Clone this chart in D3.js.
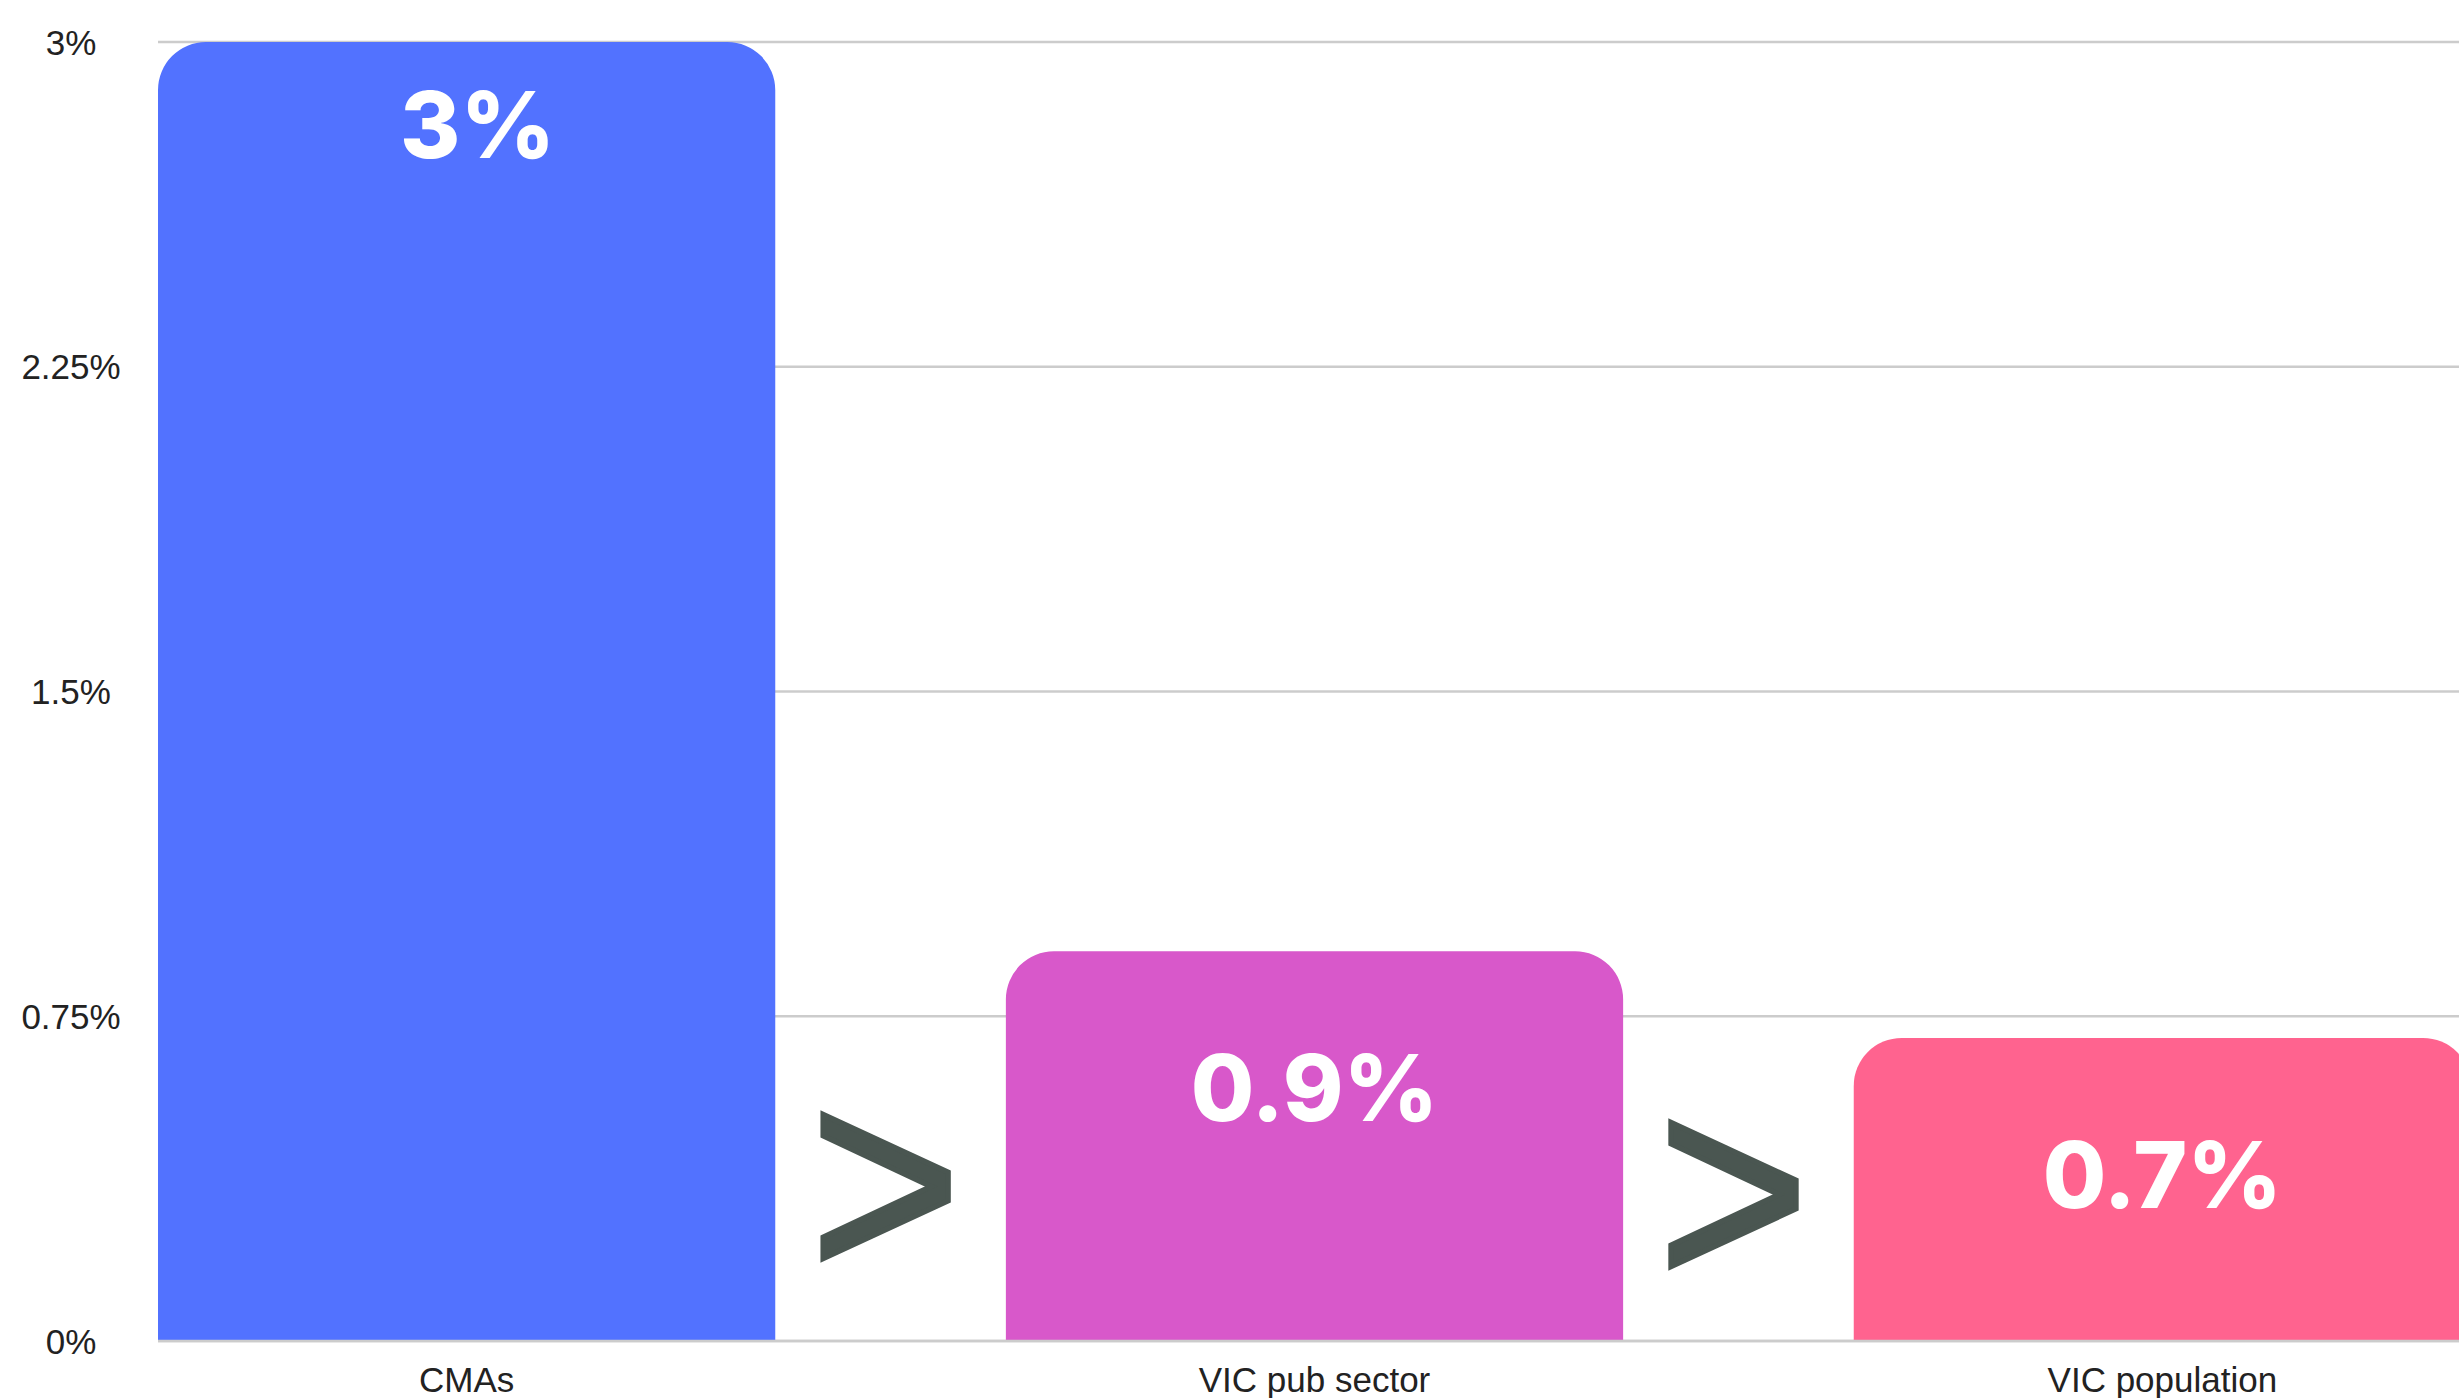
<!DOCTYPE html>
<html lang="en">
  <head>
    <meta charset="UTF-8" />
    <title>CMAs vs VIC</title>
    <style>
      body {
        margin: 0;
        background: #fff;
      }

      .grid line {
        stroke: #cccccc;
        stroke-width: 2.5px;
      }

      .axis-label {
        font-family: "Liberation Sans", Arial, sans-serif;
        font-size: 35px;
        fill: #222;
      }

      .value-label {
        font-family: Inter, sans-serif;
        font-weight: 800;
        font-size: 92px;
        fill: #fff;
      }

      .compare {
        font-family: "Liberation Sans", Arial, sans-serif;
        font-size: 258px;
        fill: #4a5651;
        stroke: #4a5651;
        stroke-width: 5px;
      }
    </style>
  </head>

  <body>
    <script src="https://cdn.jsdelivr.net/npm/d3@7"></script>
    <script>

      // Data...
      var categories = ["CMAs", "VIC pub sector", "VIC population"];
      var values = [3, 0.9, 0.7];
      var valueLabels = ["3%", "0.9%", "0.7%"];
      var barColors = ["#5272ff", "#d858ca", "#ff638f"];
      var yTicks = [0, 0.75, 1.5, 2.25, 3];
      var yTickLabels = ["0%", "0.75%", "1.5%", "2.25%", "3%"];

      var data = categories.map(function(c, i) {
        return { cat: c, value: values[i], label: valueLabels[i], color: barColors[i] };
      });

      // SVG...
      var w = 2459,
          h = 1398;

      var margin = { top: 42, right: -12, bottom: 57, left: 158 };

      var svg = d3.select("body").append("svg")
        .attr("width", w)
        .attr("height", h);

      // Scales...
      var xScale = d3.scaleBand()
        .domain(categories)
        .range([margin.left, w - margin.right])
        .paddingInner(0.272)
        .paddingOuter(0);

      var yScale = d3.scaleLinear()
        .domain([0, 3])
        .range([h - margin.bottom, margin.top]);

      // Gridlines
      svg.append("g")
        .attr("class", "grid")
        .selectAll("line")
        .data(yTicks)
        .enter()
        .append("line")
        .attr("x1", margin.left)
        .attr("x2", w)
        .attr("y1", function(d) { return yScale(d); })
        .attr("y2", function(d) { return yScale(d); });

      // Y labels
      svg.append("g")
        .selectAll("text")
        .data(yTicks)
        .enter()
        .append("text")
        .attr("class", "axis-label")
        .attr("x", 71)
        .attr("y", function(d) { return yScale(d); })
        .attr("text-anchor", "middle")
        .attr("dominant-baseline", "central")
        .text(function(d, i) { return yTickLabels[i]; });

      // Bars with rounded top corners
      var r = 48;
      function topRounded(x, y, bw, bh) {
        var p = d3.path();
        p.moveTo(x, y + bh);
        p.lineTo(x, y + r);
        p.arcTo(x, y, x + r, y, r);
        p.lineTo(x + bw - r, y);
        p.arcTo(x + bw, y, x + bw, y + r, r);
        p.lineTo(x + bw, y + bh);
        p.closePath();
        return p.toString();
      }

      svg.append("g")
        .selectAll("path")
        .data(data)
        .enter()
        .append("path")
        .attr("fill", function(d) { return d.color; })
        .attr("d", function(d) {
          var y0 = yScale(d.value);
          return topRounded(xScale(d.cat), y0, xScale.bandwidth(), yScale(0) - y0);
        });

      // Baseline drawn over bars
      svg.append("line")
        .attr("x1", margin.left)
        .attr("x2", w)
        .attr("y1", yScale(0))
        .attr("y2", yScale(0))
        .attr("stroke", "#cccccc")
        .attr("stroke-width", 2.5);

      // Value labels inside bars
      svg.append("g")
        .selectAll("text")
        .data(data)
        .enter()
        .append("text")
        .attr("class", "value-label")
        .attr("text-anchor", "middle")
        .attr("x", function(d) {
          var bh = yScale(0) - yScale(d.value);
          return xScale(d.cat) + xScale.bandwidth() / 2 + (bh > 1000 ? 11 : 0);
        })
        .attr("y", function(d) {
          var bh = yScale(0) - yScale(d.value);
          return yScale(d.value) + (bh > 1000 ? 116 : 170);
        })
        .text(function(d) { return d.label; });

      // Category labels
      svg.append("g")
        .selectAll("text")
        .data(categories)
        .enter()
        .append("text")
        .attr("class", "axis-label")
        .attr("text-anchor", "middle")
        .attr("x", function(d) { return xScale(d) + xScale.bandwidth() / 2; })
        .attr("y", yScale(0) + 51)
        .text(function(d) { return d; });

      // ">" signs between bars, stretched a little taller
      svg.append("g")
        .selectAll("text")
        .data(categories.slice(1))
        .enter()
        .append("text")
        .attr("class", "compare")
        .attr("text-anchor", "middle")
        .attr("dominant-baseline", "central")
        .attr("transform", function(d, i) {
          var prevEnd = xScale(categories[i]) + xScale.bandwidth();
          var cx = (prevEnd + xScale(d)) / 2 - 5;
          var cy = yScale(0) - 160 + i * 8;
          return "translate(" + cx + "," + cy + ") scale(1,1.1)";
        })
        .text(">");

    </script>
  </body>
</html>
